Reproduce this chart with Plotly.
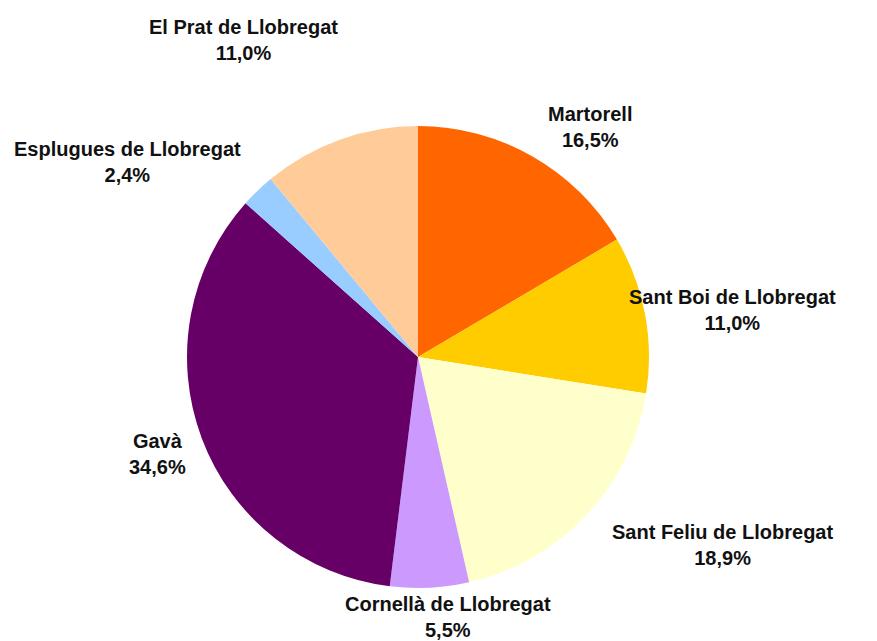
import plotly.graph_objects as go

labels = ["Martorell", "Sant Boi de Llobregat", "Sant Feliu de Llobregat",
          "Cornellà de Llobregat", "Gavà", "Esplugues de Llobregat",
          "El Prat de Llobregat"]
values = [16.5, 11.0, 18.9, 5.5, 34.6, 2.4, 11.0]
colors = ["#FF6600", "#FFCC00", "#FFFFCC", "#CC99FF", "#660066", "#99CCFF", "#FFCC99"]

# label anchor positions (pixels in the target picture)
label_pos = [(590, 127), (732, 310), (722, 545), (448, 617), (157, 454), (127, 162), (243, 40)]

W, H = 877, 641
OFF = 8  # page body margin
cx, cy, r = 418 - OFF, 357 - OFF, 231

fig = go.Figure(go.Pie(
    labels=labels, values=values, sort=False, direction="clockwise", rotation=0,
    marker=dict(colors=colors, line=dict(width=0)),
    textinfo="none", hoverinfo="label+percent", showlegend=False,
    domain=dict(x=[cx / W - 0.3, cx / W + 0.3],
                y=[(H - cy - r) / H, (H - cy + r) / H]),
))

for lab, v, (px, py) in zip(labels, values, label_pos):
    fig.add_annotation(
        x=(px - OFF) / W, y=1 - (py - OFF) / H, xref="paper", yref="paper",
        text=f"<b>{lab}<br>{v:.1f}%</b>".replace(".", ","),
        showarrow=False, xanchor="center", yanchor="middle",
        font=dict(family="Liberation Sans, Arial, sans-serif", size=20, color="#111111"),
    )

fig.update_layout(width=W, height=H, margin=dict(l=0, r=0, t=0, b=0),
                  paper_bgcolor="white", plot_bgcolor="white")
fig.write_html("out.html")
